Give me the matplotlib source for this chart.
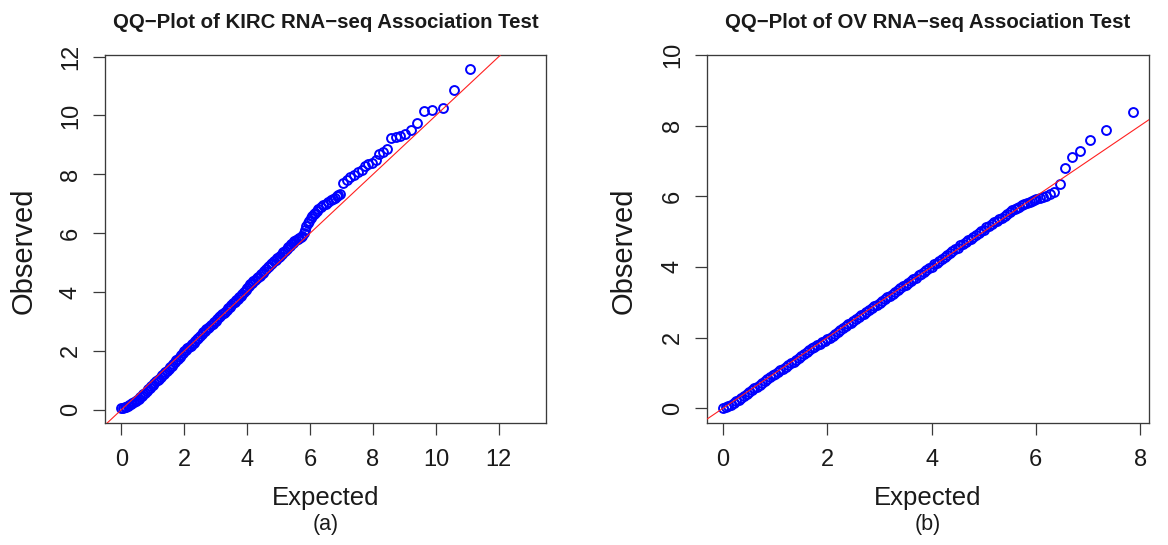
import matplotlib
matplotlib.use("Agg")
import matplotlib.pyplot as plt

plt.rcParams["font.family"] = ["Liberation Sans", "DejaVu Sans"]

# ---- KIRC panel (a): expected vs observed -log10(p) ----
kirc_expected = [
    0.00, 0.05, 0.10, 0.15, 0.20, 0.25, 0.30, 0.35, 0.40, 0.45,
    0.50, 0.55, 0.60, 0.65, 0.70, 0.75, 0.80, 0.85, 0.90, 0.95,
    1.00, 1.05, 1.10, 1.15, 1.20, 1.25, 1.30, 1.35, 1.40, 1.45,
    1.50, 1.55, 1.60, 1.65, 1.70, 1.75, 1.80, 1.85, 1.90, 1.95,
    2.00, 2.05, 2.10, 2.15, 2.20, 2.25, 2.30, 2.35, 2.40, 2.45,
    2.50, 2.55, 2.60, 2.65, 2.70, 2.75, 2.80, 2.85, 2.90, 2.95,
    3.00, 3.05, 3.10, 3.15, 3.20, 3.25, 3.30, 3.35, 3.40, 3.45,
    3.50, 3.55, 3.60, 3.65, 3.70, 3.75, 3.80, 3.85, 3.90, 3.95,
    4.00, 4.05, 4.10, 4.15, 4.20, 4.25, 4.30, 4.35, 4.40, 4.45,
    4.50, 4.55, 4.60, 4.65, 4.70, 4.75, 4.80, 4.85, 4.90, 4.95,
    5.00, 5.05, 5.10, 5.15, 5.20, 5.25, 5.30, 5.35, 5.40, 5.45,
    5.50, 5.55, 5.60, 5.65, 5.70, 5.75,
    5.80, 5.84, 5.88, 5.92, 5.97, 6.02, 6.07, 6.12, 6.16, 6.21,
    6.26, 6.34, 6.42, 6.50, 6.58, 6.66, 6.74, 6.80, 6.85, 6.90, 6.95,
    7.06, 7.17, 7.27, 7.38, 7.53, 7.64, 7.75, 7.85, 7.96, 8.10,
    8.20, 8.31, 8.43, 8.56, 8.72, 8.86, 9.02, 9.20, 9.39, 9.62,
    9.89, 10.21, 10.58, 11.08,
]
kirc_observed = [
    0.05, 0.06, 0.08, 0.10, 0.13, 0.16, 0.19, 0.22, 0.26, 0.30,
    0.34, 0.38, 0.43, 0.48, 0.53, 0.58, 0.63, 0.69, 0.74, 0.80,
    0.85, 0.91, 0.96, 1.01, 1.06, 1.12, 1.17, 1.22, 1.27, 1.33,
    1.38, 1.44, 1.50, 1.56, 1.62, 1.68, 1.74, 1.80, 1.86, 1.92,
    1.98, 2.04, 2.09, 2.13, 2.17, 2.22, 2.27, 2.33, 2.39, 2.45,
    2.51, 2.57, 2.63, 2.68, 2.73, 2.77, 2.82, 2.87, 2.92, 2.98,
    3.03, 3.09, 3.14, 3.19, 3.24, 3.28, 3.33, 3.38, 3.44, 3.50,
    3.55, 3.61, 3.66, 3.72, 3.77, 3.82, 3.88, 3.93, 3.99, 4.06,
    4.13, 4.20, 4.26, 4.32, 4.37, 4.42, 4.47, 4.51, 4.56, 4.61,
    4.66, 4.72, 4.78, 4.84, 4.89, 4.95, 5.00, 5.05, 5.10, 5.14,
    5.19, 5.24, 5.29, 5.35, 5.41, 5.47, 5.53, 5.58, 5.63, 5.68,
    5.72, 5.76, 5.80, 5.83, 5.86, 5.89,
    6.00, 6.12, 6.24, 6.34, 6.42, 6.50, 6.57, 6.64, 6.70, 6.76,
    6.82, 6.88, 6.95, 7.00, 7.06, 7.12, 7.17, 7.21, 7.25, 7.30, 7.34,
    7.71, 7.80, 7.91, 7.97, 8.08, 8.14, 8.27, 8.34, 8.40, 8.47,
    8.68, 8.76, 8.87, 9.23, 9.28, 9.30, 9.36, 9.51, 9.74, 10.15,
    10.17, 10.26, 10.88, 11.58,
]

# ---- OV panel (b) ----
ov_expected = [
    0.00, 0.05, 0.10, 0.15, 0.20, 0.25, 0.30, 0.35, 0.40, 0.45,
    0.50, 0.55, 0.60, 0.65, 0.70, 0.75, 0.80, 0.85, 0.90, 0.95,
    1.00, 1.05, 1.10, 1.15, 1.20, 1.25, 1.30, 1.35, 1.40, 1.45,
    1.50, 1.55, 1.60, 1.65, 1.70, 1.75, 1.80, 1.85, 1.90, 1.95,
    2.00, 2.05, 2.10, 2.15, 2.20, 2.25, 2.30, 2.35, 2.40, 2.45,
    2.50, 2.55, 2.60, 2.65, 2.70, 2.75, 2.80, 2.85, 2.90, 2.95,
    3.00, 3.05, 3.10, 3.15, 3.20, 3.25, 3.30, 3.35, 3.40, 3.45,
    3.50, 3.55, 3.60, 3.65, 3.70, 3.75, 3.80, 3.85, 3.90, 3.95,
    4.00, 4.05, 4.10, 4.15, 4.20, 4.25, 4.30, 4.35, 4.40, 4.45,
    4.50, 4.55, 4.60, 4.65, 4.70, 4.75, 4.80, 4.85, 4.90, 4.95,
    5.00, 5.05, 5.10, 5.15, 5.20, 5.25, 5.30, 5.35, 5.40, 5.45,
    5.50, 5.55, 5.60,
    5.64, 5.68, 5.73, 5.78, 5.83, 5.88, 5.93, 5.97, 6.01, 6.07,
    6.14, 6.20, 6.28, 6.35, 6.46, 6.55, 6.69, 6.84, 7.04, 7.34, 7.86,
]
ov_observed = [
    0.00, 0.02, 0.06, 0.10, 0.14, 0.19, 0.24, 0.29, 0.34, 0.40,
    0.45, 0.51, 0.56, 0.61, 0.66, 0.72, 0.77, 0.83, 0.88, 0.93,
    0.98, 1.03, 1.08, 1.12, 1.17, 1.22, 1.27, 1.32, 1.37, 1.43,
    1.48, 1.54, 1.59, 1.64, 1.69, 1.74, 1.78, 1.83, 1.87, 1.91,
    1.96, 2.00, 2.05, 2.11, 2.16, 2.22, 2.27, 2.32, 2.37, 2.42,
    2.47, 2.52, 2.57, 2.63, 2.68, 2.73, 2.78, 2.83, 2.88, 2.93,
    2.98, 3.04, 3.09, 3.14, 3.19, 3.24, 3.29, 3.35, 3.40, 3.45,
    3.50, 3.55, 3.60, 3.65, 3.70, 3.76, 3.81, 3.86, 3.91, 3.96,
    4.01, 4.07, 4.12, 4.18, 4.23, 4.28, 4.33, 4.39, 4.44, 4.50,
    4.55, 4.61, 4.66, 4.71, 4.75, 4.79, 4.84, 4.90, 4.95, 5.01,
    5.06, 5.12, 5.17, 5.22, 5.27, 5.31, 5.36, 5.40, 5.45, 5.51,
    5.56, 5.60, 5.63,
    5.66, 5.70, 5.75, 5.78, 5.82, 5.85, 5.87, 5.89, 5.91, 5.94,
    5.97, 6.00, 6.06, 6.13, 6.35, 6.79, 7.12, 7.28, 7.59, 7.89, 8.39,
]

# reference line y = x
ref_intercept = 0.0
ref_slope = 1.0

titles = [
    "QQ\u2212Plot of KIRC RNA\u2212seq Association Test",
    "QQ\u2212Plot of OV RNA\u2212seq Association Test",
]
panel_tags = ["(a)", "(b)"]
x_ticks = [[0, 2, 4, 6, 8, 10, 12], [0, 2, 4, 6, 8]]
y_ticks = [[0, 2, 4, 6, 8, 10, 12], [0, 2, 4, 6, 8, 10]]
x_limits = [(-0.52, 13.5), (-0.31, 8.17)]
y_limits = [(-0.45, 12.05), (-0.42, 10.0)]

AXIS_COLOR = "#3a3a3a"
TEXT_COLOR = "#1a1a1a"


def draw_qq(ax, expected, observed, title, tag, xt, yt, xl, yl, ylab_x):
    ax.plot(expected, observed, "o", mfc="none", mec="#0000ff",
            ms=6.4, mew=1.4, zorder=2)
    ax.axline((0, ref_intercept), slope=ref_slope, color="#ff2020",
              lw=0.8, zorder=3)

    ax.set_xlim(*xl)
    ax.set_ylim(*yl)
    ax.set_xticks(xt)
    ax.set_yticks(yt)

    for side in ax.spines.values():
        side.set_color(AXIS_COLOR)
        side.set_linewidth(0.95)
    ax.tick_params(direction="out", length=8.6, width=0.9,
                   color=AXIS_COLOR, labelsize=17, labelcolor=TEXT_COLOR)
    ax.tick_params(axis="x", pad=10)
    ax.tick_params(axis="y", pad=8, labelrotation=90)
    for lab in ax.get_yticklabels():
        lab.set_va("center")

    ax.text(0.5, 1.0734, title, transform=ax.transAxes, ha="center",
            va="baseline", fontsize=14.7, fontweight="bold", color=TEXT_COLOR)
    ax.text(0.5, -0.2228, "Expected", transform=ax.transAxes, ha="center",
            va="baseline", fontsize=18.5, color=TEXT_COLOR)
    ax.text(0.5, -0.277, tag, transform=ax.transAxes, ha="center",
            va="center", fontsize=15.5, color=TEXT_COLOR)
    ax.text(ylab_x, 0.467, "Observed", transform=ax.transAxes, ha="center",
            va="center", rotation=90, fontsize=21, color=TEXT_COLOR)


fig = plt.figure(figsize=(11.68, 5.45), dpi=100)
ax_a = fig.add_axes([0.0899, 0.2239, 0.3776, 0.675])
ax_b = fig.add_axes([0.6053, 0.2239, 0.3784, 0.675])

draw_qq(ax_a, kirc_expected, kirc_observed, titles[0], panel_tags[0],
        x_ticks[0], y_ticks[0], x_limits[0], y_limits[0], -0.1837)
draw_qq(ax_b, ov_expected, ov_observed, titles[1], panel_tags[1],
        x_ticks[1], y_ticks[1], x_limits[1], y_limits[1], -0.188)

fig.savefig("out.png", dpi=100)
